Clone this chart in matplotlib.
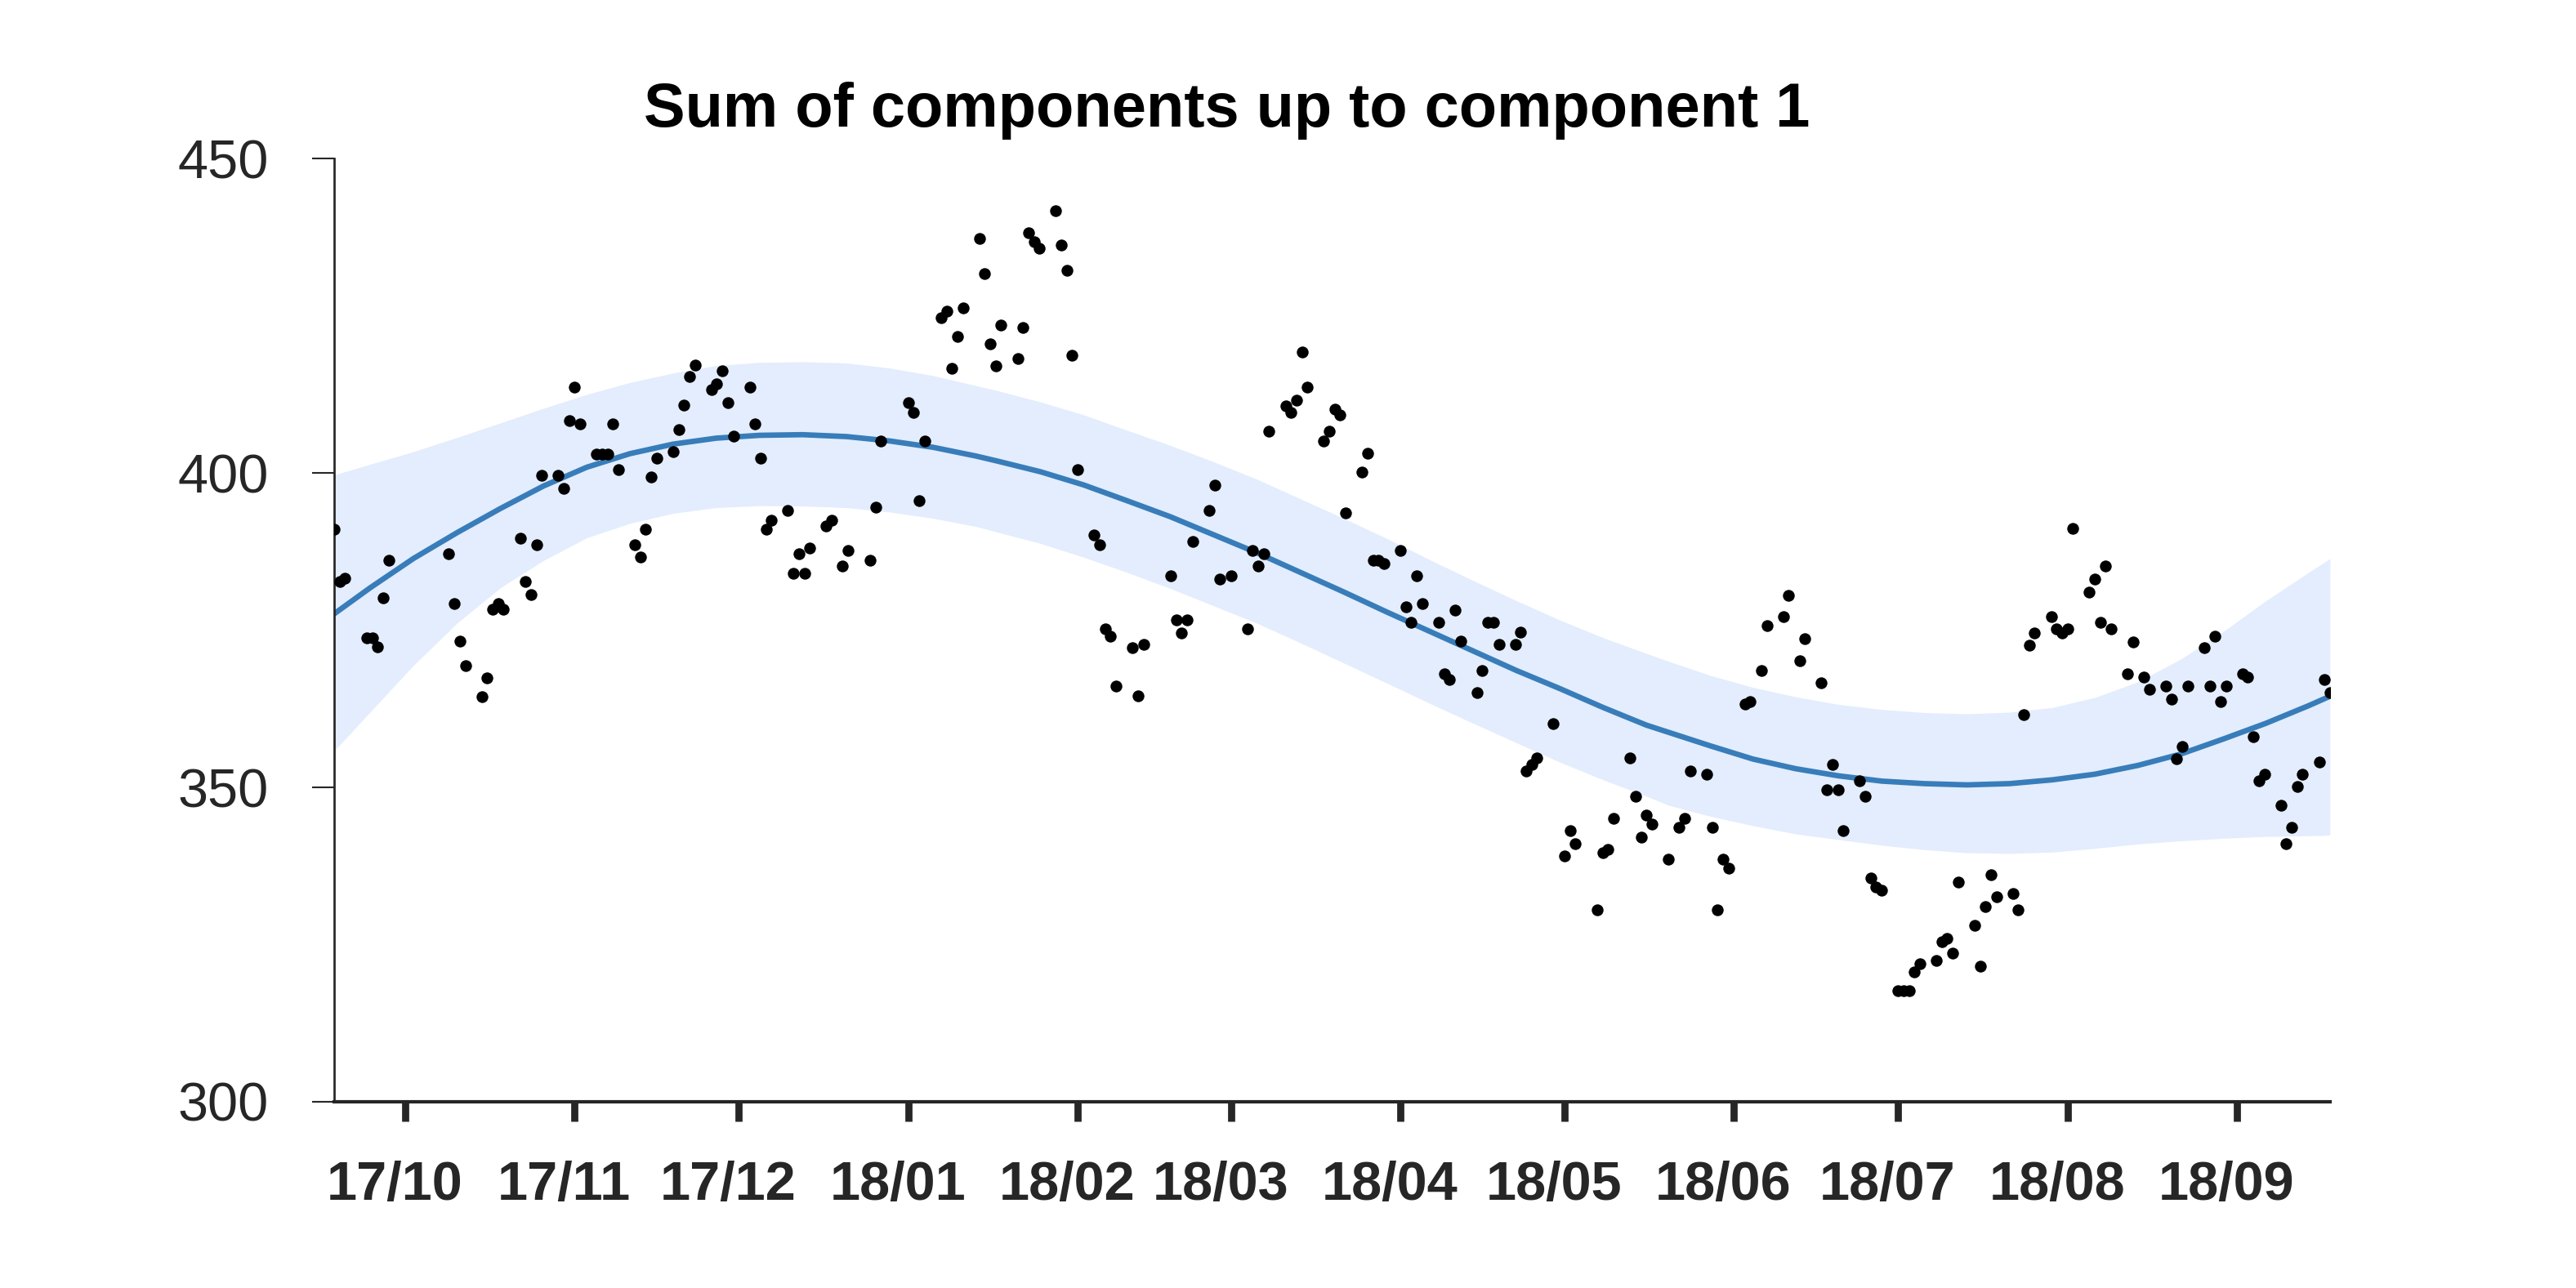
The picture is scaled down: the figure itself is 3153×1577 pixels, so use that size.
import numpy as np
import matplotlib.pyplot as plt
import matplotlib.dates as mdates
from matplotlib.transforms import ScaledTranslation

plt.rcParams['font.family'] = ['Liberation Sans', 'DejaVu Sans']

start = np.datetime64('2017-10-01')

# observations: day offset from 2017-10-01 and value
obs_day = [-13, -12, -11, -7, -6, -5, -4, -3, 8, 9, 10, 11, 14, 15, 16, 17, 18,
           21, 22, 23, 24, 25, 28, 29, 30, 31, 32, 35, 36, 37, 38, 39, 42, 43, 44,
           45, 46, 49, 50, 51, 52, 53, 56, 57, 58, 59, 60, 63, 64, 65, 66, 67, 70,
           71, 72, 73, 74, 77, 78, 80, 81, 85, 86, 87,
           92, 93, 94, 95, 98, 99, 100, 101, 102, 105, 106, 107, 108, 109, 112, 113,
           114, 115, 116, 119, 120, 121, 122, 123, 126, 127, 128, 129, 130, 133, 134,
           135, 140, 141, 142, 143, 144, 147, 148, 149, 151, 154, 155, 156, 157, 158,
           161, 162, 163, 164, 165, 168, 169, 170, 171, 172, 175, 176, 177, 178, 179,
           182, 183, 184, 185, 186,
           189, 190, 191, 192, 193, 196, 197, 198, 199, 200, 203, 204, 205, 206, 207,
           210, 212, 213, 214, 218, 219, 220, 221, 224, 225, 226, 227, 228, 231, 233,
           234, 235, 238, 239, 240, 241, 242, 245, 246, 248, 249, 252, 253, 255, 256,
           259, 260, 261, 262, 263, 266, 267, 268, 269, 270, 273, 274, 275, 276, 277,
           280, 281, 282, 283, 284, 287, 288, 289, 290,
           291, 294, 295, 296, 297, 298, 301, 302, 303, 304, 305, 308, 309, 310, 311,
           312, 315, 316, 318, 319, 322, 323, 324, 325, 326, 329, 330, 331, 332, 333,
           336, 337, 338, 339, 340, 343, 344, 345, 346, 347, 350, 351, 352]
obs_val = [391.1, 382.7, 383.2, 373.8, 373.8, 372.4, 380.2, 386.1, 387.1, 379.3, 373.3,
           369.4, 364.4, 367.4, 378.3, 379.3, 378.3, 389.6, 382.7, 380.7, 388.6, 399.6,
           399.6, 397.5, 408.3, 413.7, 407.8, 403.0, 403.0, 403.0, 407.8, 400.5, 388.6,
           386.6, 391.1, 399.4, 402.4, 403.4, 406.9, 410.8, 415.3, 417.2, 413.3, 414.2,
           416.2, 411.2, 405.9, 413.7, 407.8, 402.4, 391.1, 392.5, 394.1, 384.1, 387.1,
           384.1, 388.1, 391.6, 392.5, 385.2, 387.7, 386.1, 394.6, 405.1,
           411.2, 409.7, 395.6, 405.1, 424.7, 425.7, 416.7, 421.7, 426.2, 437.3, 431.7,
           420.6, 417.1, 423.6, 418.2, 423.1, 438.2, 436.8, 435.7, 441.7, 436.3, 432.2,
           418.7, 400.6, 390.1, 388.6, 375.2, 374.1, 366.1, 372.2, 364.6, 372.7, 383.6,
           376.6, 374.6, 376.6, 389.1, 394.1, 398.1, 383.1, 383.6, 375.2, 387.7, 385.2,
           387.1, 406.7, 410.7, 409.7, 411.6, 419.2, 413.7, 405.1, 406.7, 410.2, 409.2,
           393.7, 400.1, 403.2, 386.1, 386.1, 385.6, 387.7, 378.7, 376.2, 383.6, 379.2,
           376.2, 368.1, 367.2, 378.2, 373.2, 365.1, 368.6, 376.2, 376.2, 372.7, 372.7,
           374.7, 352.6, 353.6, 354.7, 360.1, 339.1, 343.1, 341.0, 330.5, 339.6, 340.1,
           345.1, 354.7, 348.6, 342.1, 345.6, 344.1, 338.6, 343.6, 345.1, 352.6, 352.1,
           343.6, 330.5, 338.6, 337.1, 363.2, 363.7, 368.6, 375.7, 377.1, 380.6, 370.1,
           373.6, 366.7, 349.6, 353.6, 349.6, 343.1, 351.1, 348.6, 335.6, 334.1, 333.6,
           317.6, 317.6, 317.6, 320.6, 322.0, 322.5, 325.5, 326.0, 323.6, 335.0, 328.0,
           321.5, 331.0, 336.1,
           332.6, 333.1, 330.5, 361.6, 372.6, 374.6, 377.1, 375.2, 374.6, 375.2, 391.2,
           381.1, 383.1, 376.2, 385.2, 375.2, 368.1, 373.1, 367.6, 365.6, 366.1, 364.1,
           354.6, 356.5, 366.1, 372.2, 366.1, 374.1, 363.6, 366.1, 368.1, 367.6, 358.1,
           351.1, 352.1, 347.1, 341.1, 343.6, 350.1, 352.1, 354.1, 367.1, 365.1]

# fitted component sum and its band
fit_day = [-13, -6.4, 1.5, 9.45, 17.4, 25.3, 33.2, 41.1, 49.0, 56.9, 64.8, 72.7,
           80.7, 88.6, 96.5, 104.4,
           108.3, 116.2, 124.1, 132.0, 139.9, 147.8, 155.8, 163.7, 171.6, 179.5,
           187.4, 195.3, 203.2, 211.2, 219.1, 227.0,
           230.9, 238.7, 246.5, 254.3, 262.1, 270.0, 277.8, 285.6, 293.4, 301.2,
           309.0, 316.9, 324.7, 332.5, 340.3, 348.1, 352]
fit_mid = [377.6, 381.75, 386.4, 390.5, 394.35, 397.94, 400.92, 403.08, 404.6, 405.55,
           406.0, 406.1, 405.8, 405.1, 404.1, 402.7,
           401.9, 400.2, 398.1, 395.6, 393.06, 390.2, 387.3, 384.2, 381.1, 377.9,
           374.8, 371.7, 368.6, 365.7, 362.7, 359.9,
           358.8, 356.6, 354.5, 352.97, 351.84, 351.0, 350.6, 350.4, 350.6, 351.2,
           352.1, 353.5, 355.3, 357.7, 360.2, 363.0, 364.5]
fit_upper = [399.7, 401.4, 403.4, 405.65, 407.96, 410.3, 412.5, 414.4, 415.9, 417.1,
             417.6, 417.7, 417.5, 416.7, 415.5, 413.9,
             413.1, 411.3, 409.25, 406.8, 404.4, 401.8, 399.0, 395.9, 392.8, 389.6,
             386.2, 382.9, 379.7, 376.6, 373.8, 371.3,
             370.1, 367.8, 365.9, 364.4, 363.2, 362.4, 361.9, 361.7, 361.96, 362.7,
             364.3, 366.8, 370.4, 374.8, 379.7, 384.2, 386.4]
fit_lower = [355.8, 362.0, 369.4, 376.1, 381.75, 386.1, 389.7, 392.0, 393.6, 394.5,
             394.8, 394.75, 394.5, 393.8, 392.8, 391.5,
             390.6, 388.8, 386.6, 384.2, 381.65, 378.9, 376.1, 373.0, 369.8, 366.6,
             363.35, 360.2, 357.1, 354.0, 351.2, 348.6,
             347.2, 345.4, 343.9, 342.6, 341.7, 340.8, 340.1, 339.6, 339.5, 339.7,
             340.3, 341.0, 341.5, 341.9, 342.2, 342.3, 342.4]

obs_t = start + np.array(obs_day).astype('timedelta64[D]')
fit_t = start + (np.array(fit_day) * 24 * 3600).astype('timedelta64[s]')

fig = plt.figure(figsize=(10.51, 5.2567), dpi=300)
ax = fig.add_axes([0.1297, 0.1446, 0.7748, 0.7322])

ax.fill_between(fit_t, fit_lower, fit_upper, color='#e3edfd', lw=0, zorder=1)
ax.plot(fit_t, fit_mid, color='#387db9', lw=1.6, zorder=2)
ax.scatter(obs_t, obs_val, s=12, color='k', linewidths=0, zorder=3)

ax.set_xlim(obs_t[0], obs_t[-1])
ax.set_ylim(300, 450)
ax.set_yticks([300, 350, 400, 450])
ax.xaxis.set_major_locator(mdates.MonthLocator())
ax.xaxis.set_major_formatter(mdates.DateFormatter('%y/%m'))

for s in ['top', 'right']:
    ax.spines[s].set_visible(False)
ax.spines['left'].set_linewidth(0.65)
ax.spines['bottom'].set_linewidth(1.0)
ax.spines['left'].set_color('#262626')
ax.spines['bottom'].set_color('#262626')

ax.tick_params(axis='x', direction='out', length=5.8, width=2.1, pad=11.5,
               labelsize=16, colors='#262626')
ax.tick_params(axis='y', direction='out', length=6.5, width=0.5, pad=12.7,
               labelsize=16, colors='#262626')
shift = ScaledTranslation(-13 / 300, 0, fig.dpi_scale_trans)
for lab in ax.get_xticklabels():
    lab.set_fontweight('bold')
    lab.set_transform(lab.get_transform() + shift)

fig.text(0.4764, 0.9017, 'Sum of components up to component 1', ha='center',
         va='baseline', fontsize=18.2, fontweight='bold', color='k')

plt.savefig('out.png', dpi=300)
